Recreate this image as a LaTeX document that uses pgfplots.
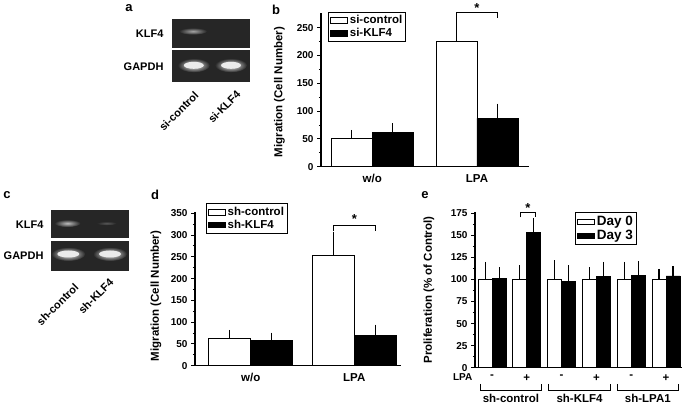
\documentclass[border=0pt]{standalone}
\usepackage{fontspec}
\setmainfont{Liberation Sans}
\usepackage{pgfplots}
\pgfplotsset{compat=1.18}

\newcommand{\fs}[1]{\bfseries\fontsize{#1}{#1}\selectfont}

\pgfplotsset{
  panel/.style={
    scale only axis,
    axis lines=left,
    axis line style={-, line width=1.1pt},
    tick align=outside,
    major tick length=4pt,
    minor tick length=2.2pt,
    every tick/.style={black, line width=0.9pt},
    minor y tick num=1,
    x tick style={draw=none},
    ybar=0pt,
    ymin=0,
    clip=false,
    /pgf/number format/assume math mode=true,
    yticklabel style={font=\fs{10}},
    xticklabel style={font=\fs{11.5}},
    legend cell align=left,
    legend style={draw=black, line width=0.9pt, font=\fs{11.5}, inner sep=1.5pt, row sep=-1pt},
    error bars/y dir=plus,
    error bars/y explicit,
    error bars/error bar style={line width=1.1pt, black},
    error bars/error mark options={mark size=3.5pt, line width=1.1pt, black},
  },
  wbar/.style={fill=white, draw=black, line width=0.8pt, area legend},
  kbar/.style={fill=black, draw=black, line width=0.8pt, area legend},
}

\begin{document}
\begin{tikzpicture}[x=1pt, y=1pt]
\useasboundingbox (0,0) rectangle (685,404);

% ---------- gel a ----------
\fill[black!85] (171.7,356.3) rectangle (250,384.7);
\fill[black!85] (171.7,322.3) rectangle (250,354);
\shade[inner color=black!35, outer color=black!85] (193,372.8) ellipse (14 and 3.5);
\shade[inner color=white, outer color=black!85] (193.8,338.7) ellipse (16 and 7);
\shade[inner color=white, outer color=black!85] (231,338.7) ellipse (16 and 7);
\fill[white!92!black] (193.8,338.7) ellipse (10 and 3.5);
\fill[white!92!black] (231,338.7) ellipse (10 and 3.5);
\node[font=\fs{11}, anchor=east] at (167,370) {KLF4};
\node[font=\fs{11}, anchor=east] at (167,337) {GAPDH};
\node[font=\fs{11}, rotate=45, anchor=east] at (199,313) {si-control};
\node[font=\fs{11}, rotate=45, anchor=east] at (241,314) {si-KLF4};
\node[font=\fs{13}] at (129,396) {a};

% ---------- gel c ----------
\fill[black!85] (50.7,165.7) rectangle (129.3,194);
\fill[black!85] (50.7,133) rectangle (129.3,163);
\shade[inner color=black!25, outer color=black!85] (67.5,180.7) ellipse (13 and 3.8);
\shade[inner color=black!65, outer color=black!85] (106.7,180.7) ellipse (10 and 2);
\shade[inner color=white, outer color=black!85] (68.3,150) ellipse (17 and 7);
\shade[inner color=white, outer color=black!85] (110,150) ellipse (17 and 7);
\fill[white!92!black] (68.3,150) ellipse (11 and 3.5);
\fill[white!92!black] (110,150) ellipse (11 and 3.5);
\node[font=\fs{11}, anchor=east] at (47,179) {KLF4};
\node[font=\fs{11}, anchor=east] at (47,148) {GAPDH};
\node[font=\fs{11}, rotate=45, anchor=east] at (79,121) {sh-control};
\node[font=\fs{11}, rotate=45, anchor=east] at (114,126) {sh-KLF4};
\node[font=\fs{13}] at (7,209) {c};

% ---------- panel b ----------
\begin{axis}[panel,
  at={(321pt,237.3pt)}, anchor=south west,
  width=208pt, height=153.5pt,
  xmin=-0.49, xmax=1.497, ymax=276,
  bar width=41pt,
  xtick={0,1}, xticklabels={w/o,LPA},
  ytick={0,50,100,150,200,250},
  legend style={at={(axis description cs:0.034,1.01)}, anchor=north west},
]
\addplot[wbar] coordinates {(0,50) +- (0,10) (1,226) +- (0,35)};
\addplot[kbar] coordinates {(0,62) +- (0,10) (1,87) +- (0,20)};
\legend{si-control,si-KLF4}
\draw[line width=0.9pt] (axis cs:0.805,267) -- (axis cs:0.805,277) -- (axis cs:1.195,277) -- (axis cs:1.195,267);
\node[font=\fs{13}] at (axis cs:1,285) {*};
\end{axis}
\node[font=\fs{11.5}, rotate=90] at (279.5,312) {Migration (Cell Number)};
\node[font=\fs{13}] at (276,394) {b};

% ---------- panel d ----------
\begin{axis}[panel,
  at={(195pt,38.3pt)}, anchor=south west,
  width=206pt, height=153.3pt,
  xmin=-0.538, xmax=1.451, ymax=352,
  bar width=42pt,
  xtick={0,1}, xticklabels={w/o,LPA},
  ytick={0,50,100,150,200,250,300,350},
  legend style={at={(axis description cs:0.053,1.059)}, anchor=north west},
]
\addplot[wbar] coordinates {(0,63) +- (0,11) (1,254) +- (0,46)};
\addplot[kbar] coordinates {(0,59) +- (0,9) (1,70) +- (0,16)};
\legend{sh-control,sh-KLF4}
\draw[line width=0.9pt] (axis cs:0.8,310) -- (axis cs:0.8,321) -- (axis cs:1.2,321) -- (axis cs:1.2,310);
\node[font=\fs{13}] at (axis cs:1,337) {*};
\end{axis}
\node[font=\fs{11.5}, rotate=90] at (156,108) {Migration (Cell Number)};
\node[font=\fs{13}] at (155,209) {d};

% ---------- panel e ----------
\begin{axis}[panel,
  at={(475pt,36.3pt)}, anchor=south west,
  width=206.7pt, height=155.2pt,
  xmin=-0.49, xmax=5.45, ymax=176,
  bar width=14pt,
  xtick={0,1,2,3,4,5}, xticklabels={-,+,-,+,-,+},
  ytick={0,25,50,75,100,125,150,175},
  legend style={at={(axis description cs:0.484,1.0)}, anchor=north west, font=\fs{13.5}},
]
\addplot[wbar] coordinates {(0,100) +- (0,16) (1,100) +- (0,12) (2,100) +- (0,18)
                            (3,100) +- (0,10) (4,100) +- (0,16) (5,100) +- (0,8)};
\addplot[kbar] coordinates {(0,101) +- (0,9) (1,153) +- (0,13) (2,98) +- (0,14)
                            (3,103) +- (0,13) (4,105) +- (0,12) (5,104) +- (0,7)};
\legend{Day 0,Day 3}
\draw[line width=0.9pt] (axis cs:0.83,170.5) -- (axis cs:0.83,175.7) -- (axis cs:1.24,175.7) -- (axis cs:1.24,170.5);
\node[font=\fs{13}] at (axis cs:1.03,181) {*};
\end{axis}
\node[font=\fs{11.5}, rotate=90] at (429,114) {Proliferation (\% of Control)};
\node[font=\fs{13}] at (425,209) {e};
\node[font=\fs{10}] at (462.7,27.3) {LPA};
\draw[line width=0.9pt] (480,20) -- (480,13.3) -- (541.7,13.3) -- (541.7,20);
\draw[line width=0.9pt] (548.3,20) -- (548.3,13.3) -- (610.7,13.3) -- (610.7,20);
\draw[line width=0.9pt] (617.3,20) -- (617.3,13.3) -- (678.3,13.3) -- (678.3,20);
\node[font=\fs{11.5}, anchor=base, inner sep=0pt] at (510.9,1.5) {sh-control};
\node[font=\fs{11.5}, anchor=base, inner sep=0pt] at (579.5,1.5) {sh-KLF4};
\node[font=\fs{11.5}, anchor=base, inner sep=0pt] at (647.8,1.5) {sh-LPA1};
\end{tikzpicture}
\end{document}
